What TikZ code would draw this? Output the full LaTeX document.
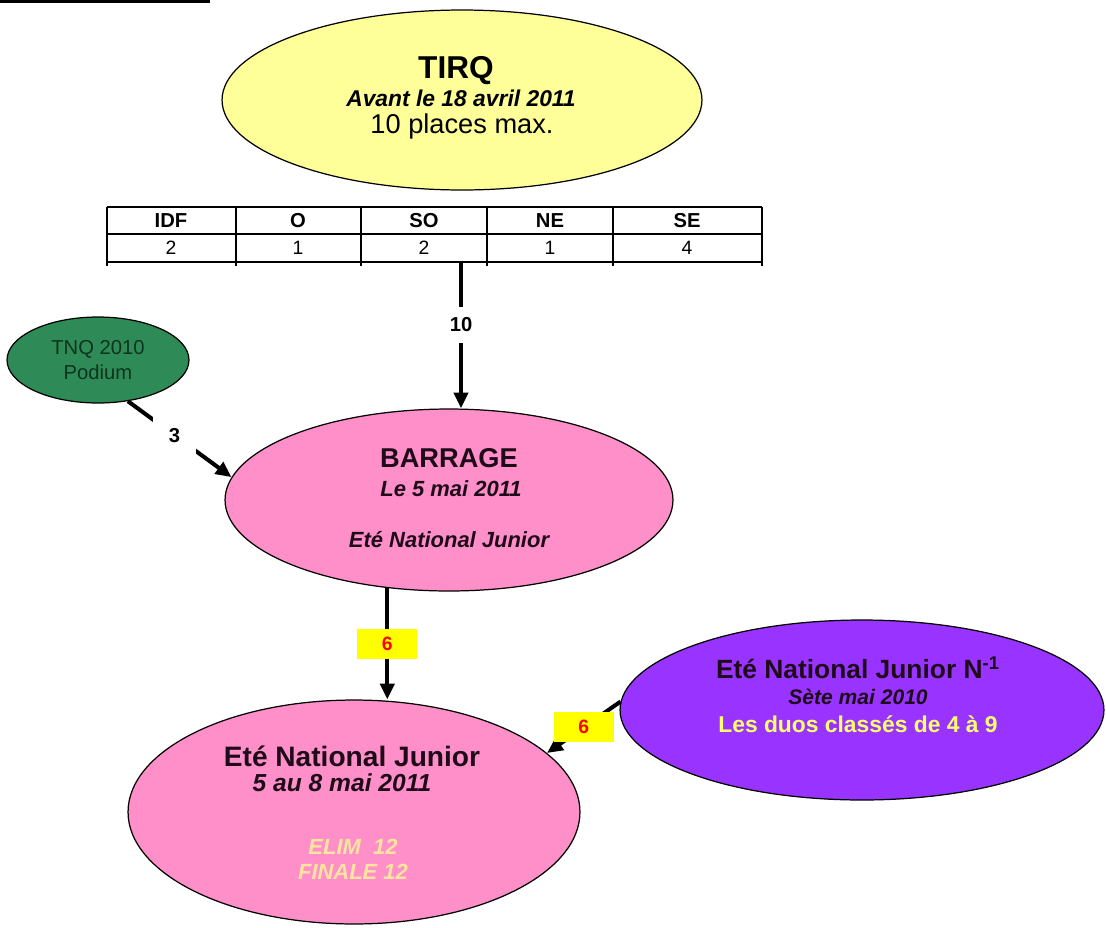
\documentclass[tikz,border=0pt]{standalone}
\usepackage{fontspec}
\setmainfont{Liberation Sans}
\usetikzlibrary{shapes.geometric}
\usetikzlibrary{arrows.meta}

\definecolor{tirqyellow}{RGB}{255,255,153}
\definecolor{podiumgreen}{RGB}{46,139,87}
\definecolor{podiumtext}{RGB}{12,52,28}
\definecolor{juniorpink}{RGB}{255,143,200}
\definecolor{duopurple}{RGB}{153,51,255}
\definecolor{elimcream}{RGB}{255,228,160}
\definecolor{duoyellow}{RGB}{255,255,110}
\definecolor{quotayellow}{RGB}{255,255,0}
\definecolor{inkdark}{RGB}{30,10,25}

\tikzset{
  bubble/.style={ellipse, draw, line width=0.7pt, inner sep=0pt},
  flow/.style={line width=2.3pt, -{Triangle[length=9pt, width=8pt]}},
  count/.style={fill=white, inner sep=6pt, font=\bfseries\fontsize{11.5}{13}\selectfont},
  quota/.style={fill=quotayellow, text=red, minimum width=1.2cm, minimum height=0.6cm,
                inner sep=0pt, font=\bfseries\fontsize{11}{13}\selectfont},
  cell/.style={font=\fontsize{11}{13}\selectfont}
}

\begin{document}
\begin{tikzpicture}[x=0.02cm, y=-0.02cm]
   \useasboundingbox (0,0) rectangle (1106,927);
   \fill (0,0) rectangle (210,3);

   % ellipses
   \node [bubble, fill=tirqyellow, minimum width=9.6cm, minimum height=3.6cm] (tirq) at (462,100) {};
   \node [bubble, fill=podiumgreen, minimum width=3.64cm, minimum height=1.72cm] (tnq) at (98,360) {};
   \node [bubble, fill=juniorpink, minimum width=8.96cm, minimum height=3.64cm] (bar) at (449,500) {};
   \node [bubble, fill=juniorpink, minimum width=9.04cm, minimum height=4.48cm] (enj) at (354,812) {};
   \node [bubble, fill=duopurple, minimum width=9.68cm, minimum height=3.6cm] (duo) at (862,710) {};

   % texts
   \node [font=\bfseries\fontsize{18}{20}\selectfont] (tirq title) at (456,71) {TIRQ};
   \node [font=\bfseries\itshape\fontsize{13}{15}\selectfont] (tirq date) at (461,98) {Avant le 18 avril 2011};
   \node [font=\fontsize{15.5}{18}\selectfont] (tirq max) at (462,126) {10 places max.};

   \node [text=podiumtext, align=center, font=\fontsize{11.5}{14}\selectfont] (tnq text) at (98,360) {TNQ 2010\\Podium};

   \node [text=inkdark, font=\bfseries\fontsize{15.5}{18}\selectfont] (bar title) at (449,458) {BARRAGE};
   \node [text=inkdark, font=\bfseries\itshape\fontsize{12.5}{15}\selectfont] (bar date) at (451,489) {Le 5 mai 2011};
   \node [text=inkdark, font=\bfseries\itshape\fontsize{12.5}{15}\selectfont] (bar ete) at (449,540) {Eté National Junior};

   \node [text=inkdark, font=\bfseries\fontsize{16}{18}\selectfont] (enj title) at (352,756) {Eté National Junior};
   \node [text=inkdark, font=\bfseries\itshape\fontsize{14}{16}\selectfont] (enj date) at (342,783) {5 au 8 mai 2011};
   \node [text=elimcream, font=\bfseries\itshape\fontsize{12.5}{15}\selectfont] (enj elim) at (353,847) {ELIM~~12};
   \node [text=elimcream, font=\bfseries\itshape\fontsize{12.5}{15}\selectfont] (enj finale) at (353,872) {FINALE 12};

   \node [text=inkdark, font=\bfseries\fontsize{15}{18}\selectfont] (duo title) at (858,668) {Eté National Junior N\textsuperscript{-1}};
   \node [text=inkdark, font=\bfseries\itshape\fontsize{12}{15}\selectfont] (duo date) at (858,697) {Sète mai 2010};
   \node [text=duoyellow, font=\bfseries\fontsize{13}{15}\selectfont] (duo rank) at (858,724) {Les duos classés de 4 à 9};

   % table
   \draw [line width=0.6pt] (107,207) -- (762,207);
   \draw [line width=0.6pt] (107,234) -- (762,234);
   \draw [line width=0.6pt] (107,262) -- (762,262);
   \foreach \x in {107,236,361,487,613,762}
      \draw [line width=0.6pt] (\x,207) -- (\x,266);
   \node [cell, font=\bfseries\fontsize{11.5}{13}\selectfont] (idf) at (171,221) {IDF};
   \node [cell, font=\bfseries\fontsize{11.5}{13}\selectfont] (o) at (298,221) {O};
   \node [cell, font=\bfseries\fontsize{11.5}{13}\selectfont] (so) at (424,221) {SO};
   \node [cell, font=\bfseries\fontsize{11.5}{13}\selectfont] (ne) at (550,221) {NE};
   \node [cell, font=\bfseries\fontsize{11.5}{13}\selectfont] (se) at (687,221) {SE};
   \node [cell] (idf n) at (171,248) {2};
   \node [cell] (o n) at (298,248) {1};
   \node [cell] (so n) at (424,248) {2};
   \node [cell] (ne n) at (550,248) {1};
   \node [cell] (se n) at (687,248) {4};
   \coordinate (tab out) at (461,262);

   % arrows
   \draw [flow] (tab out) -- node [count, pos=0.43] (ten) {10} (tab out |- bar.north);
   \draw [flow] (tnq.-54) -- node [count, pos=0.45, inner sep=9pt] (three) {3} (bar.174);
   \draw [flow] (bar.-125) -- node [quota, pos=0.5] (six a) {6} (bar.-125 |- enj.north);
   \draw [flow] (duo.178) -- node [quota, pos=0.5] (six b) {6} (enj.17);
\end{tikzpicture}
\end{document}
